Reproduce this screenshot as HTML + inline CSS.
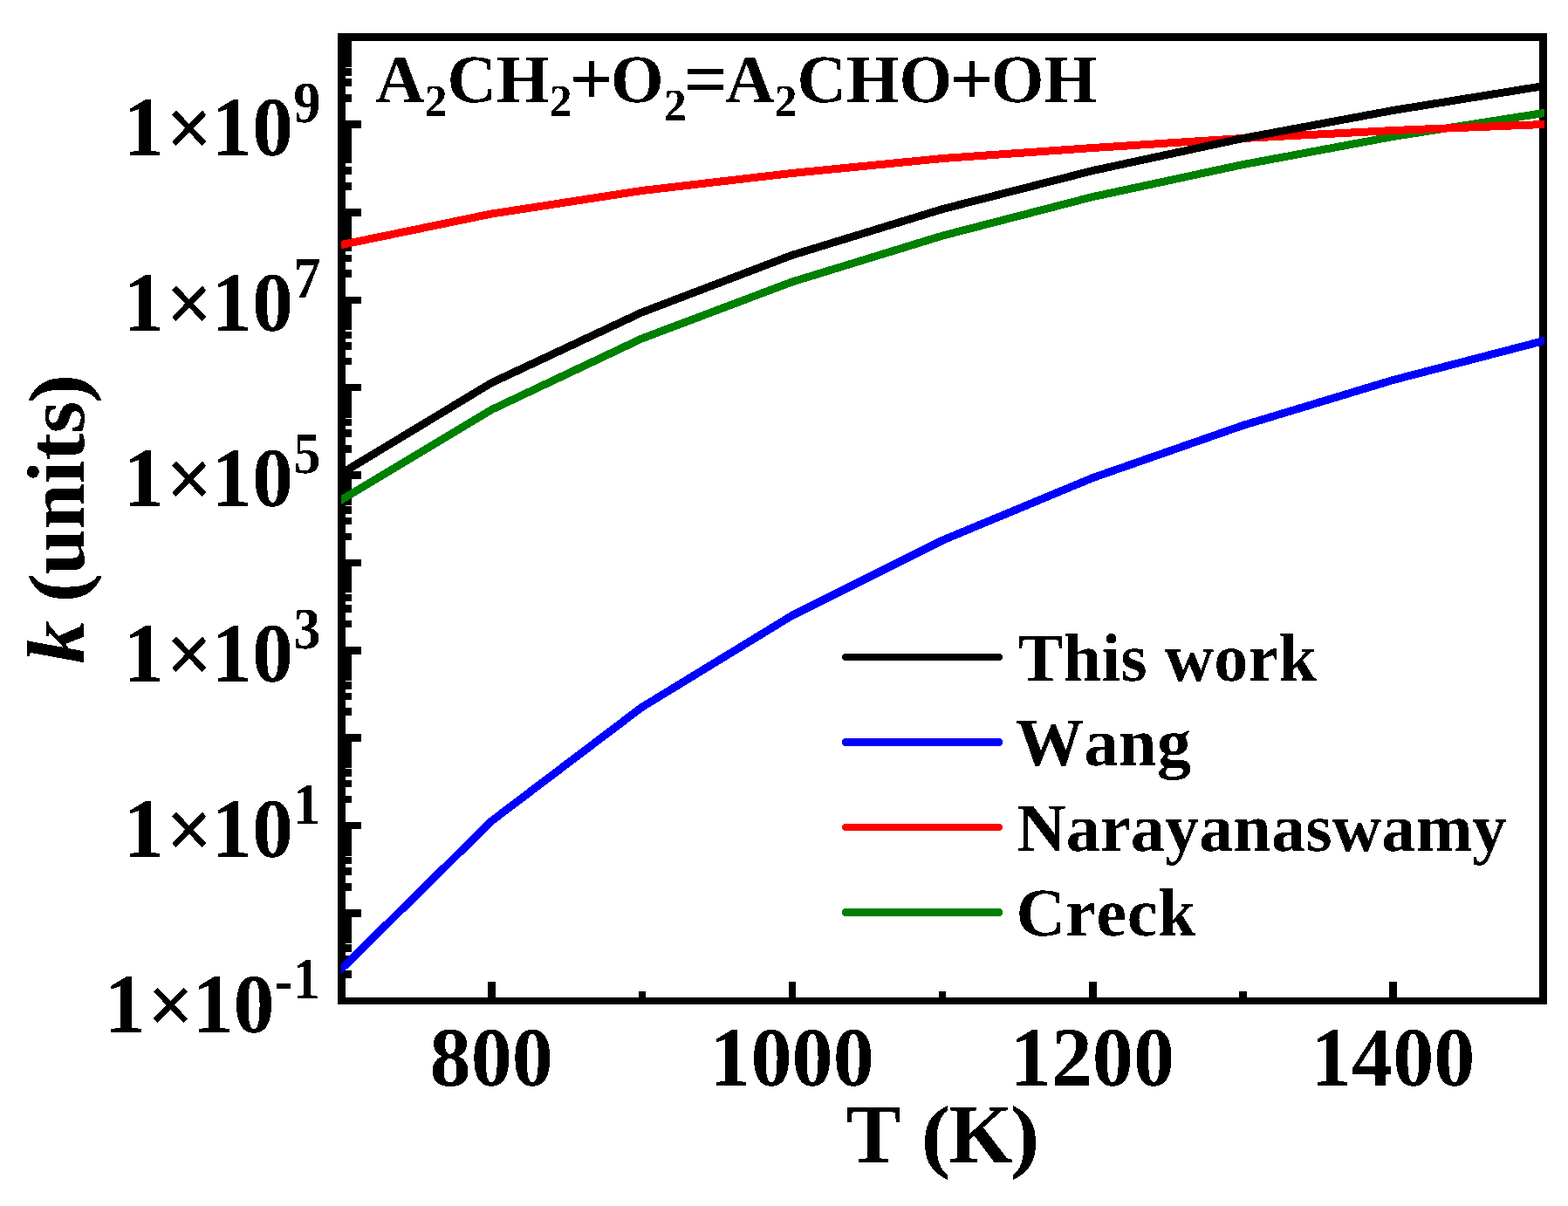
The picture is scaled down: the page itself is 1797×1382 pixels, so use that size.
<!DOCTYPE html>
<html lang="en"><head><meta charset="utf-8"><title>A2CH2+O2=A2CHO+OH rate constants</title>
<style>
html,body{margin:0;padding:0;background:#fff;}
body{width:1797px;height:1382px;overflow:hidden;}
svg{display:block;}
text{font-family:"Liberation Serif","DejaVu Serif",serif;font-weight:bold;fill:#000;font-kerning:none;text-rendering:geometricPrecision;white-space:pre;}
.ax{fill:#000;shape-rendering:crispEdges;}
.cv{fill:none;stroke-width:9;stroke-linejoin:round;stroke-linecap:butt;shape-rendering:crispEdges;}
</style></head><body>
<svg width="1797" height="1382" viewBox="0 0 1797 1382">
<rect x="0" y="0" width="1797" height="1382" fill="#fff"/>
<defs><clipPath id="plotclip"><rect x="391" y="38" width="1379" height="1113"/></clipPath>
<filter id="hard" filterUnits="userSpaceOnUse" x="0" y="0" width="1797" height="1382" color-interpolation-filters="sRGB"><feComponentTransfer><feFuncA type="discrete" tableValues="0 1"/></feComponentTransfer></filter></defs>
<g class="ax">
<rect x="387" y="38" width="1386" height="9"/>
<rect x="387" y="1143" width="1386" height="8"/>
<rect x="387" y="38" width="9" height="1113"/>
<rect x="1764" y="38" width="9" height="1113"/>
<rect x="396" y="138" width="18" height="9"/>
<rect x="396" y="239" width="18" height="9"/>
<rect x="396" y="340" width="18" height="8"/>
<rect x="396" y="440" width="18" height="8"/>
<rect x="396" y="540" width="18" height="9"/>
<rect x="396" y="641" width="18" height="8"/>
<rect x="396" y="741" width="18" height="9"/>
<rect x="396" y="841" width="18" height="9"/>
<rect x="396" y="942" width="18" height="8"/>
<rect x="396" y="1042" width="18" height="9"/>
<rect x="396" y="47" width="7" height="30"/>
<rect x="396" y="138" width="7" height="49"/>
<rect x="396" y="239" width="7" height="49"/>
<rect x="396" y="340" width="7" height="38"/>
<rect x="396" y="440" width="7" height="39"/>
<rect x="396" y="540" width="7" height="39"/>
<rect x="396" y="641" width="7" height="38"/>
<rect x="396" y="741" width="7" height="39"/>
<rect x="396" y="841" width="7" height="39"/>
<rect x="396" y="942" width="7" height="39"/>
<rect x="396" y="1042" width="7" height="39"/>
<rect x="396" y="78" width="7" height="9"/>
<rect x="396" y="90" width="7" height="9"/>
<rect x="396" y="108" width="7" height="9"/>
<rect x="396" y="191" width="7" height="9"/>
<rect x="396" y="209" width="7" height="9"/>
<rect x="396" y="292" width="7" height="8"/>
<rect x="396" y="309" width="7" height="9"/>
<rect x="396" y="380" width="7" height="8"/>
<rect x="396" y="392" width="7" height="9"/>
<rect x="396" y="410" width="7" height="8"/>
<rect x="396" y="480" width="7" height="8"/>
<rect x="396" y="492" width="7" height="9"/>
<rect x="396" y="510" width="7" height="9"/>
<rect x="396" y="580" width="7" height="9"/>
<rect x="396" y="593" width="7" height="8"/>
<rect x="396" y="611" width="7" height="8"/>
<rect x="396" y="681" width="7" height="8"/>
<rect x="396" y="693" width="7" height="9"/>
<rect x="396" y="711" width="7" height="8"/>
<rect x="396" y="781" width="7" height="9"/>
<rect x="396" y="794" width="7" height="8"/>
<rect x="396" y="811" width="7" height="9"/>
<rect x="396" y="881" width="7" height="9"/>
<rect x="396" y="894" width="7" height="8"/>
<rect x="396" y="912" width="7" height="8"/>
<rect x="396" y="982" width="7" height="8"/>
<rect x="396" y="994" width="7" height="9"/>
<rect x="396" y="1012" width="7" height="9"/>
<rect x="396" y="1082" width="7" height="9"/>
<rect x="396" y="1095" width="7" height="8"/>
<rect x="396" y="1112" width="7" height="9"/>
<rect x="559" y="1125" width="9" height="18"/>
<rect x="904" y="1125" width="8" height="18"/>
<rect x="1248" y="1125" width="9" height="18"/>
<rect x="1592" y="1125" width="9" height="18"/>
<rect x="732" y="1136" width="8" height="7"/>
<rect x="1076" y="1136" width="8" height="7"/>
<rect x="1420" y="1136" width="9" height="7"/>
</g>
<g clip-path="url(#plotclip)">
<polyline class="cv" stroke="#008000" points="371.50,584.60 391.50,572.60 563.50,469.40 735.50,388.00 907.50,323.10 1080.50,270.00 1252.50,225.50 1424.50,188.60 1596.50,156.50 1769.50,129.50 1789.50,126.38"/>
<polyline class="cv" stroke="#ff0000" points="371.50,284.63 391.50,280.50 563.50,245.00 735.50,218.50 907.50,198.50 1080.50,181.50 1252.50,169.50 1424.50,158.50 1596.50,149.50 1769.50,142.50 1789.50,141.69"/>
<polyline class="cv" stroke="#0000ff" points="371.50,1129.80 391.50,1110.10 563.50,940.70 735.50,810.50 907.50,705.50 1080.50,619.00 1252.50,547.50 1424.50,487.50 1596.50,435.50 1769.50,390.50 1789.50,385.30"/>
<polyline class="cv" stroke="#000000" points="371.50,554.47 391.50,542.40 563.50,438.60 735.50,358.00 907.50,292.50 1080.50,239.50 1252.50,195.50 1424.50,158.50 1596.50,126.50 1769.50,98.50 1789.50,95.26"/>
</g>
<rect x="965" y="749" width="184" height="8" rx="4" ry="4" fill="#000000" shape-rendering="crispEdges"/>
<rect x="965" y="846" width="184" height="9" rx="4" ry="4" fill="#0000ff" shape-rendering="crispEdges"/>
<rect x="965" y="944" width="184" height="8" rx="4" ry="4" fill="#ff0000" shape-rendering="crispEdges"/>
<rect x="965" y="1041" width="184" height="9" rx="4" ry="4" fill="#008000" shape-rendering="crispEdges"/>
<g filter="url(#hard)">
<text transform="translate(1166.50,779.50)" font-size="78" letter-spacing="0.25">This work</text>
<text transform="translate(1164.00,877.00)" font-size="78" letter-spacing="0.5">Wang</text>
<text transform="translate(1165.20,974.50)" font-size="78" letter-spacing="0.2">Narayanaswamy</text>
<text transform="translate(1164.40,1072.00)" font-size="78" letter-spacing="0.6">Creck</text>
<text transform="translate(430.20,117.00)" font-size="78" letter-spacing="0">A<tspan font-size="52" dy="16">2</tspan><tspan dy="-16">CH</tspan><tspan font-size="52" dy="16">2</tspan><tspan font-size="88.3" dy="-12.6" dx="-2.9">+</tspan><tspan dy="-3.4" dx="-2.9">O</tspan><tspan font-size="52" dy="21.2">2</tspan><tspan font-size="88.3" dy="-17.8" dx="-2.9">=</tspan><tspan dy="-3.4" dx="-2.9">A</tspan><tspan font-size="52" dy="16">2</tspan><tspan dy="-16">CHO</tspan><tspan font-size="88.3" dy="3.4" dx="-2.9">+</tspan><tspan dy="-3.4" dx="-2.9">OH</tspan></text>
<text transform="translate(141.26,177.94) scale(1,1.026)" font-size="94.2">1<tspan dy="0.9" dx="1.9">&#215;</tspan><tspan dy="-0.9" dx="-1.9">10</tspan><tspan font-size="65.6" dy="-37.3" textLength="31.25" lengthAdjust="spacingAndGlyphs">9</tspan></text>
<text transform="translate(141.26,378.94) scale(1,1.026)" font-size="94.2">1<tspan dy="0.9" dx="1.9">&#215;</tspan><tspan dy="-0.9" dx="-1.9">10</tspan><tspan font-size="65.6" dy="-37.3" textLength="31.25" lengthAdjust="spacingAndGlyphs">7</tspan></text>
<text transform="translate(141.26,579.94) scale(1,1.026)" font-size="94.2">1<tspan dy="0.9" dx="1.9">&#215;</tspan><tspan dy="-0.9" dx="-1.9">10</tspan><tspan font-size="65.6" dy="-37.3" textLength="31.25" lengthAdjust="spacingAndGlyphs">5</tspan></text>
<text transform="translate(141.26,780.94) scale(1,1.026)" font-size="94.2">1<tspan dy="0.9" dx="1.9">&#215;</tspan><tspan dy="-0.9" dx="-1.9">10</tspan><tspan font-size="65.6" dy="-37.3" textLength="31.25" lengthAdjust="spacingAndGlyphs">3</tspan></text>
<text transform="translate(141.26,981.94) scale(1,1.026)" font-size="94.2">1<tspan dy="0.9" dx="1.9">&#215;</tspan><tspan dy="-0.9" dx="-1.9">10</tspan><tspan font-size="65.6" dy="-37.3" textLength="31.25" lengthAdjust="spacingAndGlyphs">1</tspan></text>
<text transform="translate(119.70,1182.94) scale(1,1.026)" font-size="94.2">1<tspan dy="0.9" dx="1.9">&#215;</tspan><tspan dy="-0.9" dx="-1.9">10</tspan><tspan font-size="65.6" dy="-36.4" textLength="20.81" lengthAdjust="spacingAndGlyphs">-</tspan><tspan font-size="65.6" dy="-1.9" textLength="31.25" lengthAdjust="spacingAndGlyphs">1</tspan></text>
<text transform="translate(563.25,1243.90) scale(1,1.026)" font-size="94.2" text-anchor="middle">800</text>
<text transform="translate(907.55,1243.90) scale(1,1.026)" font-size="94.2" text-anchor="middle">1000</text>
<text transform="translate(1251.85,1243.90) scale(1,1.026)" font-size="94.2" text-anchor="middle">1200</text>
<text transform="translate(1596.15,1243.90) scale(1,1.026)" font-size="94.2" text-anchor="middle">1400</text>
<text transform="translate(969.80,1332.00) scale(1,1.023)" font-size="94.2">T <tspan font-size="91.4" dx="-0.66" textLength="33.94" lengthAdjust="spacingAndGlyphs">(</tspan><tspan dx="-2.26">K</tspan><tspan font-size="91.4" dx="-2.94" textLength="33.94" lengthAdjust="spacingAndGlyphs">)</tspan></text>
<text transform="translate(96,760.67) rotate(-90) scale(1,1)" font-size="94.2"><tspan font-style="italic" dx="0.39" textLength="49.20" lengthAdjust="spacingAndGlyphs">k</tspan> <tspan font-size="93.3" dy="0.8" dx="-2.82" textLength="33.65" lengthAdjust="spacingAndGlyphs">(</tspan><tspan dy="-0.8" dx="-1.95">units</tspan><tspan font-size="93.3" dy="0.8" dx="-2.5" textLength="33.65" lengthAdjust="spacingAndGlyphs">)</tspan></text>
</g>
</svg>
</body></html>
